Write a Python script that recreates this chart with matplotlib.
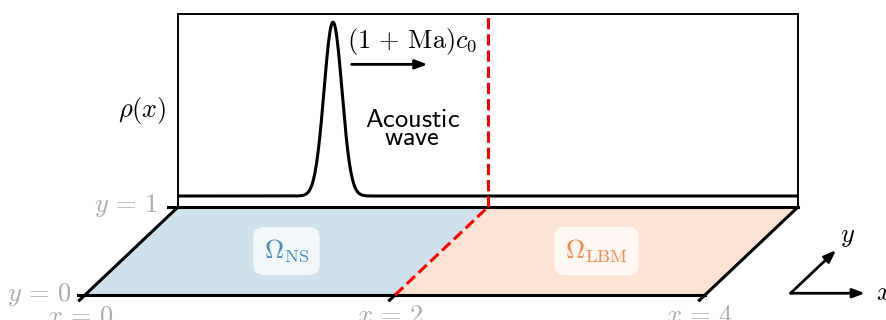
import matplotlib.pyplot as plt
import numpy as np
from matplotlib.transforms import Affine2D

plt.rcParams['mathtext.fontset'] = 'cm'

# domain split (x from 0 to 4, y from 0 to 1)
x_edges = [0, 2, 4]
y_edges = [0, 1]
x_ticks = [0, 2, 4]
y_ticks = [0, 1]
region_names = [r'$\Omega_{\mathrm{NS}}$', r'$\Omega_{\mathrm{LBM}}$']
region_fill = ['#cfe1ed', '#fce3d3']
region_text = ['#4a8cc4', '#f4894b']
interface_x = 2

# density pulse
pulse_center = 1.0
pulse_width = 0.058
rho_base = 0.057
rho_peak = 0.958

FS = 19
GRAY = '#acacac'

fig = plt.figure(figsize=(8.86, 3.2), dpi=100)
ax = fig.add_axes([0, 0, 1, 1])
ax.set_xlim(-85 / 155, 801 / 155)
ax.set_ylim(-25 / 88, 295 / 88)
ax.axis('off')

# oblique view of the plane: x' = x + 0.6 y
skew = Affine2D(np.array([[1, 0.6, 0], [0, 1, 0], [0, 0, 1]])) + ax.transData

# filled sub-domains
for i in range(len(x_edges) - 1):
    x0, x1 = x_edges[i], x_edges[i + 1]
    ax.fill([x0, x1, x1, x0], [y_edges[0], y_edges[0], y_edges[1], y_edges[1]],
            color=region_fill[i], lw=0, transform=skew, zorder=1)
    ax.text((x0 + x1) / 2, 0.5, region_names[i], transform=skew, fontsize=FS,
            color=region_text[i], ha='center', va='center', zorder=4,
            bbox=dict(boxstyle='round,pad=0.4', fc=(1, 1, 1, 0.75), ec='none'))

# outline + ticks
ax.plot([-0.045, x_edges[-1]], [0, 0], 'k-', lw=2.2, transform=skew, zorder=3)  # front edge
ax.plot([-0.065, x_edges[-1]], [1, 1], 'k-', lw=2.2, transform=skew, zorder=3)  # back edge
for xe in [x_edges[0], x_edges[-1]]:
    ax.plot([xe, xe], [-0.06, 1], 'k-', lw=2.2, transform=skew, zorder=3)  # sides
ax.plot([interface_x, interface_x], [-0.06, 0], 'k-', lw=2.2, transform=skew, zorder=3)
ax.plot([interface_x, interface_x], [0, 1], '--', color='red', lw=2.2,
        transform=skew, zorder=3)

# tick labels
for xt in x_ticks:
    ax.annotate(rf'$x\,=\,{xt}$', xy=(xt, 0), xycoords=skew, xytext=(-5, -8),
                textcoords='offset pixels', ha='center', va='top',
                fontsize=FS, color=GRAY)
ax.annotate(r'$y\,=\,0$', xy=(0, 0), xycoords=skew, xytext=(-13, -6),
            textcoords='offset pixels', ha='right', va='baseline',
            fontsize=FS, color=GRAY)
ax.annotate(r'$y\,=\,1$', xy=(0, 1), xycoords=skew, xytext=(-20, -5),
            textcoords='offset pixels', ha='right', va='baseline',
            fontsize=FS, color=GRAY)

# little x/y axis glyph
arrow = dict(arrowstyle='-|>,head_length=0.4,head_width=0.15', mutation_scale=18,
             lw=2, color='k', shrinkA=0, shrinkB=0)
ax.annotate('', xy=(5.02, 0.02), xytext=(4.54, 0.02), xycoords=skew,
            textcoords=skew, arrowprops=arrow)
ax.annotate('', xy=(4.54, 0.51), xytext=(4.54, 0.02), xycoords=skew,
            textcoords=skew, arrowprops=arrow)
ax.text(5.09, 0.02, '$x$', transform=skew, fontsize=FS, ha='left', va='center')
ax.text(4.52, 0.67, '$y$', transform=skew, fontsize=FS, ha='center', va='center')

# density panel above the back edge
ins = ax.inset_axes([0.6, 1, 4, (295 - 14) / 88 - 1], transform=ax.transData)
ins.set_xlim(0, 4)
ins.set_ylim(0, 1)
ins.set_xticks([])
ins.set_yticks([])
ins.set_facecolor('none')
for s in ins.spines.values():
    s.set_linewidth(1.4)
ins.spines['bottom'].set_visible(False)

x = np.linspace(0, 4, 801)
rho = rho_base + (rho_peak - rho_base) * np.exp(-0.5 * ((x - pulse_center) / pulse_width) ** 2)
ins.plot(x, rho, 'k-', lw=2.2)
ins.axvline(interface_x, color='red', ls='--', lw=2.2)

ins.text(-0.232, 0.5, r'$\rho(x)$', fontsize=FS, ha='center', va='center')
ins.text(1.51, 0.824, r'$(1\,+\,\mathrm{Ma})c_0$', fontsize=FS, ha='center', va='baseline')
ins.annotate('', xy=(1.61, 0.739), xytext=(1.12, 0.739),
             arrowprops=dict(arrowstyle='-|>,head_length=0.4,head_width=0.15',
                             mutation_scale=18, lw=2, color='k', shrinkA=0, shrinkB=0))
ins.text(1.51, 0.416, r'$\mathsf{Acoustic}$', fontsize=FS, ha='center', va='baseline')
ins.text(1.51, 0.321, r'$\mathsf{wave}$', fontsize=FS, ha='center', va='baseline')

fig.savefig('out.png', dpi=100)
